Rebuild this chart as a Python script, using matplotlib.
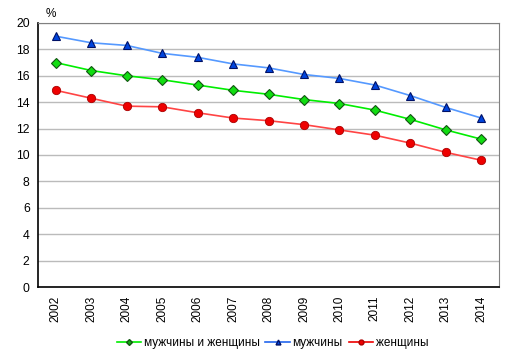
import matplotlib
matplotlib.use("Agg")
import matplotlib.pyplot as plt
import numpy as np

plt.rcParams['font.family'] = ['Liberation Sans', 'DejaVu Sans']

years = ['2002', '2003', '2004', '2005', '2006', '2007', '2008',
         '2009', '2010', '2011', '2012', '2013', '2014']
both = [17.0, 16.4, 16.0, 15.7, 15.3, 14.9, 14.6, 14.2, 13.9, 13.4, 12.7, 11.9, 11.2]
men = [19.0, 18.5, 18.3, 17.7, 17.4, 16.9, 16.6, 16.1, 15.8, 15.3, 14.5, 13.6, 12.8]
women = [14.9, 14.3, 13.7, 13.65, 13.2, 12.8, 12.6, 12.3, 11.9, 11.5, 10.9, 10.2, 9.6]
labels = ['мужчины и женщины', 'мужчины', 'женщины']
yticks = [0, 2, 4, 6, 8, 10, 12, 14, 16, 18, 20]

fig = plt.figure(figsize=(5.13, 3.58), dpi=100)
ax = fig.add_axes([0.0741, 0.1983, 0.8986, 0.7375])
x = np.arange(len(years))

ax.plot(x, both, color='#00EE00', lw=1.2, marker='D', ms=5,
        mfc='#11DD11', mec='#115511', mew=0.8, zorder=3)
ax.plot(x, men, color='#5599FF', lw=1.2, marker='^', ms=6,
        mfc='#0044DD', mec='#001166', mew=0.8, zorder=3)
ax.plot(x, women, color='#FF4444', lw=1.2, marker='o', ms=6,
        mfc='#EE0000', mec='#AA0000', mew=0.6, zorder=3)

ax.set_xlim(-0.5, len(years) - 0.5)
ax.set_ylim(0, 20)
ax.set_yticks(yticks)
ax.set_xticks(x)
ax.set_xticklabels(years, rotation=90, fontsize=8.5)
ax.tick_params(axis='y', labelsize=8.8, length=0, pad=6)
ax.tick_params(axis='x', length=0, pad=6)
ax.grid(axis='y', color='#BBBBBB', lw=1)
ax.set_axisbelow(True)
for s in ['top', 'right']:
    ax.spines[s].set_color('#808080')
for s in ['left', 'bottom']:
    ax.spines[s].set_color('black')
    ax.spines[s].set_linewidth(1.2)

fig.text(0.0994, 0.962, '%', fontsize=8.5, ha='center', va='center')

h1 = plt.Line2D([], [], color='#00EE00', lw=1.2, marker='D', ms=3, mfc='#11AA11', mec='#115511')
h2 = plt.Line2D([], [], color='#2266EE', lw=1.2, marker='^', ms=3.5, mfc='#0044DD', mec='#001166')
h3 = plt.Line2D([], [], color='#EE0000', lw=1.2, marker='o', ms=3.5, mfc='#EE0000', mec='#AA0000')
fig.legend([h1, h2, h3], labels, loc='center', bbox_to_anchor=(0.531, 0.042),
           ncol=3, frameon=False, fontsize=8.5, handlelength=2.1,
           columnspacing=0.5, handletextpad=0.2)

fig.savefig('out.png', dpi=100)
